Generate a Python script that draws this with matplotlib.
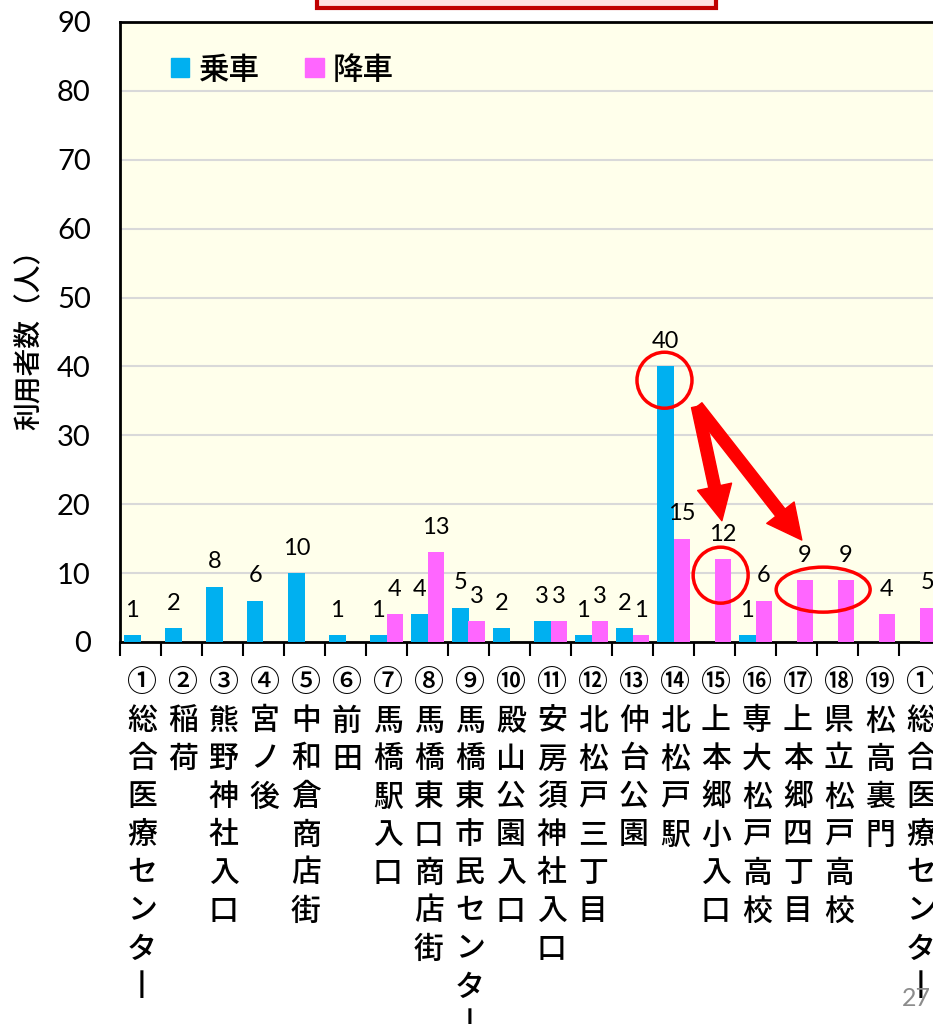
import matplotlib
matplotlib.use("Agg")
import matplotlib.pyplot as plt
from matplotlib.patches import Ellipse, Rectangle, FancyArrowPatch, Patch

plt.rcParams['font.family'] = ['Noto Sans CJK JP', 'DejaVu Sans']
NUM_FONT = ['Lato', 'DejaVu Sans']

# ---- data ----
stop_numbers = ['①', '②', '③', '④', '⑤', '⑥', '⑦', '⑧', '⑨', '⑩',
                '⑪', '⑫', '⑬', '⑭', '⑮', '⑯', '⑰', '⑱', '⑲', '①']
stop_names = ['総合医療センター', '稲荷', '熊野神社入口', '宮ノ後', '中和倉商店街',
              '前田', '馬橋駅入口', '馬橋東口商店街', '馬橋東市民センター', '殿山公園入口',
              '安房須神社入口', '北松戸三丁目', '仲台公園', '北松戸駅', '上本郷小入口',
              '専大松戸高校', '上本郷四丁目', '県立松戸高校', '松高裏門', '総合医療センター']
boarding = [1, 2, 8, 6, 10, 1, 1, 4, 5, 2, 3, 1, 2, 40, 0, 1, 0, 0, 0, 0]
alighting = [0, 0, 0, 0, 0, 0, 4, 13, 3, 0, 3, 3, 1, 15, 12, 6, 9, 9, 4, 5]
series_names = ['乗車', '降車']
y_label = '利用者数（人）'
page_number = '27'

C_BOARD = '#00B0F0'
C_ALIGHT = '#FF66FF'

W, H = 933, 1024
fig = plt.figure(figsize=(W / 100, H / 100), dpi=100)
left_px, right_px, top_px, bot_px = 120, 940, 22, 642
ax = fig.add_axes([left_px / W, 1 - bot_px / H, (right_px - left_px) / W, (bot_px - top_px) / H])
ax.set_facecolor('#FFFFEB')

n = len(boarding)
xs = list(range(n))
bw = 0.4
ax.bar([x - 0.2 for x in xs], boarding, width=bw, color=C_BOARD, zorder=3)
ax.bar([x + 0.2 for x in xs], alighting, width=bw, color=C_ALIGHT, zorder=3)

# data labels
for x, v in zip(xs, boarding):
    if v:
        ax.annotate(str(v), xy=(x - 0.2, v), xytext=(0, 18), textcoords='offset points',
                    ha='center', va='center', fontsize=17, family=NUM_FONT, zorder=5)
for x, v in zip(xs, alighting):
    if v:
        ax.annotate(str(v), xy=(x + 0.2, v), xytext=(0, 18), textcoords='offset points',
                    ha='center', va='center', fontsize=17, family=NUM_FONT, zorder=5)

ax.set_xlim(-0.5, n - 0.5)
ax.set_ylim(0, 90)
ax.set_yticks(range(0, 91, 10))
ax.tick_params(axis='y', length=0, pad=21, labelsize=21)
for lab in ax.get_yticklabels():
    lab.set_family(NUM_FONT)
ax.set_xticks([x - 0.5 for x in xs] + [n - 0.5])
ax.set_xticklabels([])
ax.tick_params(axis='x', direction='out', length=10, width=1.5, color='black')
ax.grid(axis='y', color='#D9D9D9', linewidth=1.5, zorder=0)
for s in ax.spines.values():
    s.set_color('black')
    s.set_linewidth(2)
ax.spines['right'].set_visible(False)

# vertical category labels
for x, num, name in zip(xs, stop_numbers, stop_names):
    rows = [num] + [('丨' if c == 'ー' else c) for c in name]
    for k, ch in enumerate(rows):
        ax.annotate(ch, xy=(x, 0), xytext=(1, -(41 + 38 * k) * 0.72), textcoords='offset points',
                    ha='center', va='center', fontsize=21.5, fontweight='medium',
                    annotation_clip=False)

# y label
fig.text(29 / W, 1 - 333 / H, y_label, rotation=90, ha='center', va='center',
         fontsize=20, fontweight='medium')

# legend
handles = [Patch(color=C_BOARD), Patch(color=C_ALIGHT)]
leg = ax.legend(handles, series_names, loc='center left', bbox_to_anchor=(51 / 820, (642 - 70) / 620),
                ncol=2, frameon=False, prop={'size': 22, 'weight': 'medium'},
                handlelength=0.6, handleheight=0.6,
                handletextpad=0.3, columnspacing=1.5, borderpad=0, borderaxespad=0)

# annotations: circles and arrows
ax.add_patch(Ellipse((13 - 0.22, 38.0), 55 / 41, 56 / 6.89, fill=False, edgecolor='#FF0000', lw=2.5, zorder=6))
ax.add_patch(Ellipse((14 + 0.15, 9.7), 55 / 41, 56 / 6.89, fill=False, edgecolor='#FF0000', lw=2.5, zorder=6))
ax.add_patch(Ellipse((16.65, 7.6), 94 / 41, 45 / 6.89, fill=False, edgecolor='#FF0000', lw=2.5, zorder=6))
style = 'simple,head_length=2.5,head_width=2.5,tail_width=0.85'
ax.add_patch(FancyArrowPatch((13.58, 34.2), (14.18, 17.6), arrowstyle=style, mutation_scale=10,
                             color='#FF0000', shrinkA=0, shrinkB=0, zorder=6))
ax.add_patch(FancyArrowPatch((13.58, 34.2), (16.13, 14.8), arrowstyle=style, mutation_scale=10,
                             color='#FF0000', shrinkA=0, shrinkB=0, zorder=6))

# red title box partly visible at top
fig.patches.append(Rectangle((317 / W, 1 - 8 / H), 399 / W, 40 / H, transform=fig.transFigure,
                             facecolor='#FFE1E1', edgecolor='#C00000', linewidth=3))

# page number
fig.text(931 / W, 1 - 998 / H, page_number, ha='right', va='center', fontsize=18,
         color='#8C8C8C', family=NUM_FONT)

fig.savefig('out.png', dpi=100)
